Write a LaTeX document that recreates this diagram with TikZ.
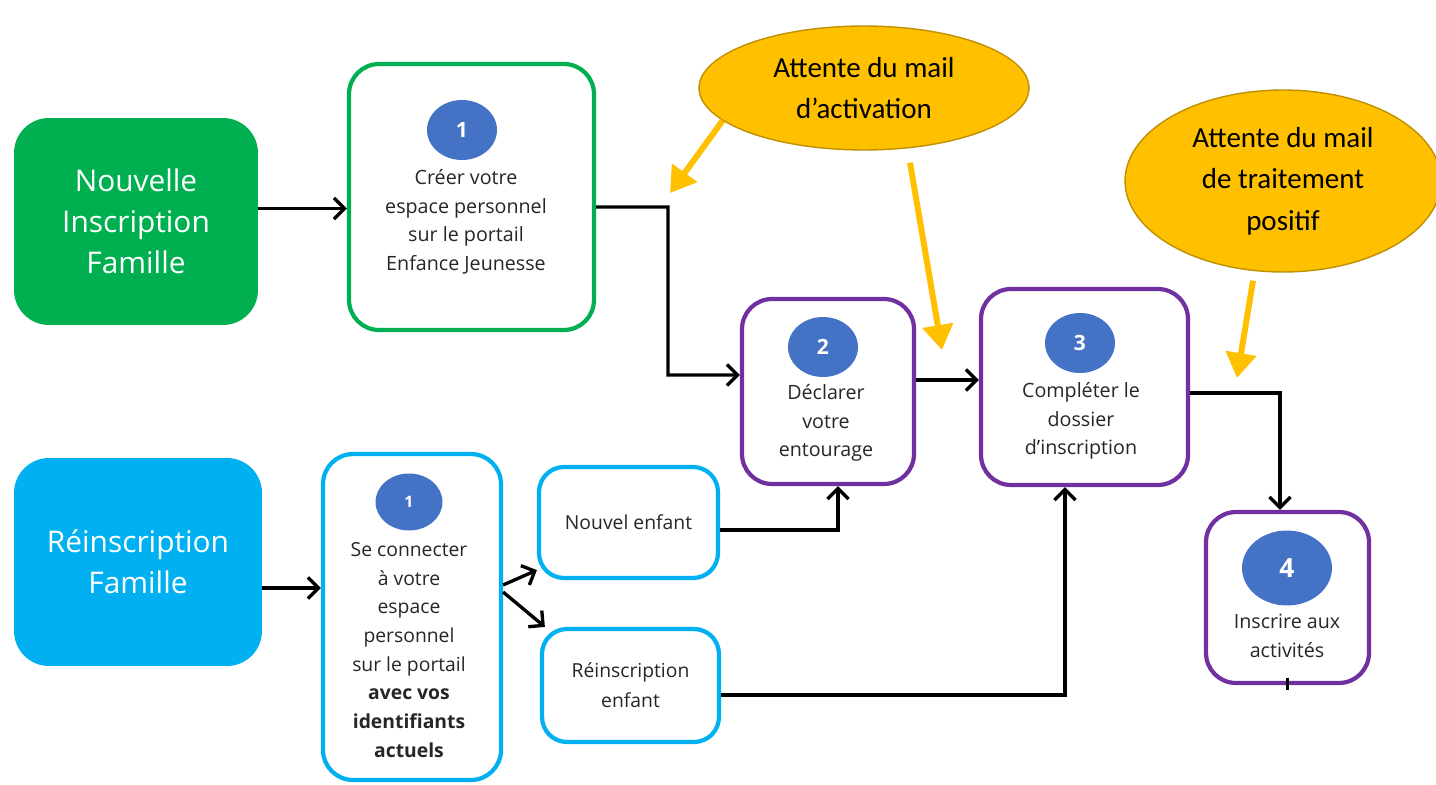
\documentclass[tikz,border=0pt]{standalone}
\usepackage{fontspec}
\setmainfont{Open Sans}
\newfontfamily\calibri{Carlito}
\usepackage{tikz}
\usetikzlibrary{arrows.meta,shapes,positioning}
\usepackage{xcolor}
\definecolor{ejgreen}{RGB}{0,176,80}
\definecolor{ejblue}{RGB}{0,176,240}
\definecolor{ejpurple}{RGB}{112,48,160}
\definecolor{ejcircle}{RGB}{68,114,196}
\definecolor{ejgold}{RGB}{255,192,0}
\definecolor{ejgolddark}{RGB}{191,144,0}
\definecolor{ejtext}{RGB}{38,38,38}
\tikzstyle{famille} = [rectangle, rounded corners=0.7cm, text=white, align=center, font=\fontsize{17}{23.5}\selectfont]
\tikzstyle{etape} = [rectangle, rounded corners=0.6cm, fill=white, line width=2.4pt]
\tikzstyle{choix} = [rectangle, rounded corners=0.5cm, fill=white, draw=ejblue, line width=2.4pt, align=center, text=ejtext, font=\fontsize{11}{17}\selectfont]
\tikzstyle{pastille} = [ellipse, fill=ejcircle, text=white, inner sep=0pt, minimum width=1.4cm, minimum height=1.2cm, font=\bfseries\fontsize{12}{12}\selectfont]
\tikzstyle{texte} = [align=center, text=ejtext, font=\fontsize{11.2}{16.2}\selectfont]
\tikzstyle{attente} = [ellipse, fill=ejgold, draw=ejgolddark, thick, inner sep=0pt, align=center, font=\calibri\fontsize{16.5}{23.5}\selectfont]
\tikzstyle{arrow} = [line width=1.9pt, -{Straight Barb[length=6pt,width=12pt]}]
\tikzstyle{yarrow} = [line width=3.4pt, color=ejgold, -{Triangle[length=0.5cm,width=0.6cm]}]

\begin{document}
\begin{tikzpicture}[x=0.02cm, y=-0.02cm]
\useasboundingbox (0,0) rectangle (1436,784);
% Familles
\node (nouvelle) [famille, fill=ejgreen, minimum width=4.88cm, minimum height=4.14cm] at (136,221.5) {Nouvelle\\Inscription\\Famille};
\node (reinscription) [famille, fill=ejblue, minimum width=4.96cm, minimum height=4.16cm] at (138,562) {Réinscription\\Famille};

% Etapes
\node (creer) [etape, draw=ejgreen, minimum width=4.9cm, minimum height=5.32cm] at (471.5,197) {};
\node (creer-num) [pastille] at (462,130) {1};
\node (creer-txt) [texte] at (466,222) {Créer votre\\espace personnel\\sur le portail\\Enfance Jeunesse};

\node (declarer) [etape, draw=ejpurple, minimum width=3.44cm, minimum height=3.7cm] at (828,391.5) {};
\node (declarer-num) [pastille] at (823,347) {2};
\node (declarer-txt) [texte] at (826,423) {Déclarer\\votre\\entourage};

\node (completer) [etape, draw=ejpurple, minimum width=4.14cm, minimum height=3.92cm] at (1084.5,387) {};
\node (completer-num) [pastille] at (1080,343) {3};
\node (completer-txt) [texte] at (1081,421) {Compléter le\\dossier\\d’inscription};

\node (inscrire) [etape, draw=ejpurple, minimum width=3.26cm, minimum height=3.42cm] at (1287.5,597.5) {};
\node (inscrire-num) [pastille, minimum width=1.8cm, minimum height=1.5cm, font=\bfseries\fontsize{15}{15}\selectfont] at (1287,568) {4};
\node (inscrire-txt) [texte] at (1287,636) {Inscrire aux\\activités};

\node (connecter) [etape, draw=ejblue, minimum width=3.56cm, minimum height=6.52cm] at (412,617) {};
\node (connecter-num) [pastille, minimum width=1.34cm, minimum height=1.14cm, font=\bfseries\fontsize{9}{9}\selectfont] at (409,502) {1};
\node (connecter-txt) [texte, font=\fontsize{11}{16.3}\selectfont] at (409,650) {Se connecter\\à votre\\espace\\personnel\\sur le portail\\\textbf{avec vos}\\\textbf{identifiants}\\\textbf{actuels}};

\node (nouvel) [choix, minimum width=3.58cm, minimum height=2.22cm] at (628.5,522.5) {Nouvel enfant};
\node (reinsenfant) [choix, minimum width=3.54cm, minimum height=2.26cm] at (630.5,685.5) {Réinscription\\enfant};

% Attentes
\node (mail1) [attente, minimum width=6.6cm, minimum height=2.48cm] at (864,88) {Attente du mail\\d’activation};
\node (mail2) [attente, minimum width=6.32cm, minimum height=3.64cm] at (1283,181) {Attente du mail\\de traitement\\positif};
\coordinate (coude1) at (668,207);
\coordinate (fin1) at (670,193);
\coordinate (fin2) at (942,350);
\coordinate (fin3) at (1237,378);

% Arrows
\draw[arrow] ([yshift=0.26cm]nouvelle.east) -- ([yshift=0.26cm]nouvelle.east -| creer.west);
\draw[arrow] ([yshift=-0.2cm]creer.east) -- (coude1) |- ([yshift=0.33cm]declarer.west);
\draw[arrow] ([yshift=0.23cm]declarer.east) -- ([yshift=0.23cm]declarer.east -| completer.west);
\draw[arrow] ([yshift=-0.12cm]completer.east) -| ([xshift=-0.15cm]inscrire.north);
\draw[line width=1.9pt] ([yshift=0.15cm]inscrire.south) -- ++(0,12);
\draw[arrow] ([yshift=-0.52cm]reinscription.east) -- ([yshift=-0.52cm]reinscription.east -| connecter.west);
\draw[arrow] ([yshift=0.64cm]connecter.east) -- ([yshift=0.2cm]nouvel.south west);
\draw[arrow] ([yshift=0.5cm]connecter.east) -- ([xshift=0.1cm]reinsenfant.north west);
\draw[arrow] ([yshift=-0.15cm]nouvel.east) -| ([xshift=0.2cm]declarer.south);
\draw[arrow] ([yshift=-0.19cm]reinsenfant.east) -| ([xshift=-0.39cm]completer.south);

% Yellow arrows
\draw[yarrow] (mail1.193) -- (fin1);
\draw[yarrow] ([xshift=0.92cm,yshift=-0.24cm]mail1.south) -- (fin2);
\draw[yarrow] ([xshift=-0.6cm,yshift=-0.16cm]mail2.south) -- (fin3);
\end{tikzpicture}
\end{document}
